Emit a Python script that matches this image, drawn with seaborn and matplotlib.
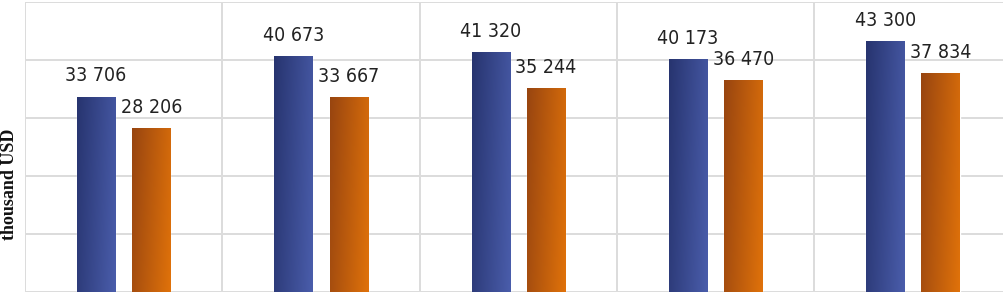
import numpy as np
import pandas as pd
import matplotlib
matplotlib.use("Agg")
import matplotlib.pyplot as plt
import matplotlib.colors as mcolors
import seaborn as sns

# category and series names are not visible in the picture (cropped)
groups = ["1", "2", "3", "4", "5"]
series = ["A", "B"]
values_a = [33706, 40673, 41320, 40173, 43300]
values_b = [28206, 33667, 35244, 36470, 37834]

df = pd.DataFrame({
    "group": groups * 2,
    "series": [series[0]] * len(groups) + [series[1]] * len(groups),
    "value": values_a + values_b,
})

sns.set_style("white")
plt.rcParams["font.family"] = ["DejaVu Sans"]

fig = plt.figure(figsize=(10.04, 2.95), dpi=100)
ax = fig.add_axes([25 / 1004, 3 / 295, 986.5 / 1004, 290 / 295])

sns.barplot(data=df, x="group", y="value", hue="series",
            palette=["#34479a", "#c9600c"], width=0.56, gap=0.31,
            legend=False, ax=ax)

# gradient fill for each bar, clipped to the bar shape
grads = {
    0: ("#27346f", "#4a5dab"),
    1: ("#984510", "#e0720a"),
}
n = len(groups)
for i, bar in enumerate(ax.patches[:2 * n]):
    s = i // n
    c0, c1 = grads[s]
    cmap = mcolors.LinearSegmentedColormap.from_list("g", [c0, c1])
    x0, y0 = bar.get_x(), bar.get_y()
    w, h = bar.get_width(), bar.get_height()
    gx = np.linspace(0, 1, 64)[None, :]
    gy = np.linspace(0, 1, 64)[:, None]
    grad = 0.8 * gx + 0.2 * gy
    im = ax.imshow(grad, cmap=cmap, aspect="auto", origin="upper",
                   extent=(x0, x0 + w, y0, y0 + h), zorder=bar.get_zorder() + 0.1)
    im.set_clip_path(bar)
    ax.text(x0 + w / 2, h + 1900, f"{int(h):,}".replace(",", " "),
            ha="center", va="bottom", fontsize=14, fontstretch="condensed",
            color="#222222", zorder=5)

ax.set_xlim(-0.5, len(groups) - 0.5)
ax.set_ylim(0, 50000)

# grid: horizontal lines every 10 000, vertical lines between groups
ax.set_yticks(np.arange(0, 50001, 10000))
ax.set_xticks(np.arange(-0.5, len(groups), 1.0), minor=True)
ax.grid(axis="y", color="#dcdcdc", linewidth=1.4)
ax.grid(axis="x", which="minor", color="#dcdcdc", linewidth=1.4)
ax.grid(axis="x", which="major", visible=False)
ax.set_axisbelow(True)
ax.tick_params(axis="both", which="both", length=0, labelleft=False,
               labelbottom=False)
for sp in ax.spines.values():
    sp.set_visible(False)

ax.set_xlabel("")
ax.set_ylabel("thousand USD", family=["Liberation Serif", "DejaVu Serif"],
              fontweight="bold", fontsize=13, color="#111111")
ax.yaxis.set_label_coords(-0.0072, 0.37)

fig.savefig("out.png", dpi=100)
